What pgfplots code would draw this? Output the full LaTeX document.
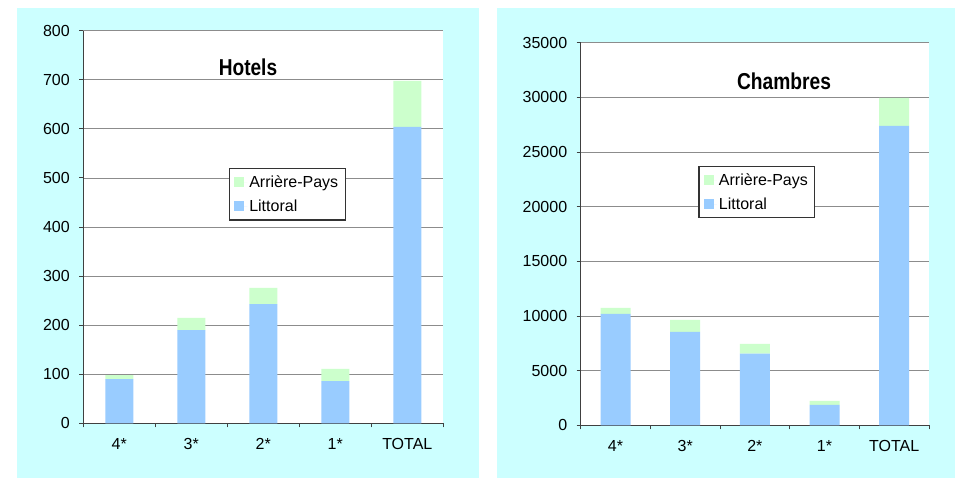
\documentclass[border=0pt]{standalone}
\usepackage{fontspec}
\setmainfont{Liberation Sans}
\usepackage{graphicx}
\usepackage{pgfplots}
\pgfplotsset{compat=1.18}
\definecolor{bgcyan}{HTML}{CCFFFF}
\definecolor{litt}{HTML}{99CCFF}
\definecolor{arr}{HTML}{CCFFCC}
\definecolor{gridgray}{HTML}{8C8C8C}
\definecolor{axisdark}{HTML}{404040}
\pgfplotsset{mystyle/.style={
  scale only axis, anchor=south west,
  axis background/.style={fill=white},
  ybar stacked,
  xmin=-0.5, xmax=4.5,
  xtick={-0.5,0.5,...,4.5},
  x tick label as interval,
  xticklabels={4*,3*,2*,1*,TOTAL},
  axis x line*=bottom, axis y line*=left,
  axis line style={axisdark, line width=0.9pt, -},
  tick style={axisdark, line width=0.9pt},
  major tick length=4pt,
  tick align=outside,
  ymajorgrids,
  major grid style={gridgray, line width=0.8pt},
  tick label style={font=\fontsize{16}{19}\selectfont},
  xticklabel style={yshift=-8pt},
  yticklabel style={xshift=-6pt},
  scaled y ticks=false,
  /pgf/number format/assume math mode=true,
  /pgf/number format/1000 sep={},
  legend style={draw=black!80, line width=1.1pt, fill=white,
    font=\fontsize{16}{19}\selectfont, anchor=north west,
    inner xsep=5pt, inner ysep=5pt, row sep=7pt},
  legend cell align=left,
  reverse legend,
  legend image code/.code={\fill[#1] (0pt,-5pt) rectangle (10pt,5pt);
    \path (0pt,0pt) -- (13pt,0pt);},
}}
\begin{document}
\begin{tikzpicture}
\fill[white] (0pt,0pt) rectangle (959pt,478pt);
\path[use as bounding box] (0pt,0pt) rectangle (959pt,478pt);
\fill[bgcyan] (17pt,0pt) rectangle (479pt,470pt);
\fill[bgcyan] (497pt,0pt) rectangle (955pt,470pt);

\begin{axis}[mystyle, at={(83.3pt,54.7pt)}, width=360pt, height=392.6pt,
  ymin=0, ymax=800, ytick={0,100,...,800}, bar width=28pt,
  legend style={at={(0.404,0.650)}}]
\addplot[fill=litt, draw=none] coordinates {(0,90) (1,190) (2,243) (3,86) (4,604)};
\addplot[fill=arr, draw=none] coordinates {(0,8) (1,25) (2,33) (3,25) (4,94)};
\legend{Littoral, Arrière-Pays}
\end{axis}

\begin{axis}[mystyle, at={(580.7pt,52.7pt)}, width=348.3pt, height=382.6pt,
  ymin=0, ymax=35000, ytick={0,5000,...,35000}, bar width=30pt,
  legend style={at={(0.338,0.678)}}]
\addplot[fill=litt, draw=none] coordinates {(0,10200) (1,8550) (2,6550) (3,1860) (4,27380)};
\addplot[fill=arr, draw=none] coordinates {(0,530) (1,1100) (2,900) (3,370) (4,2570)};
\legend{Littoral, Arrière-Pays}
\end{axis}

\node at (248pt,411pt) {\fontsize{23}{26}\selectfont\bfseries\scalebox{0.83}[1]{Hotels}};
\node at (784pt,397pt) {\fontsize{23}{26}\selectfont\bfseries\scalebox{0.835}[1]{Chambres}};
\end{tikzpicture}
\end{document}
